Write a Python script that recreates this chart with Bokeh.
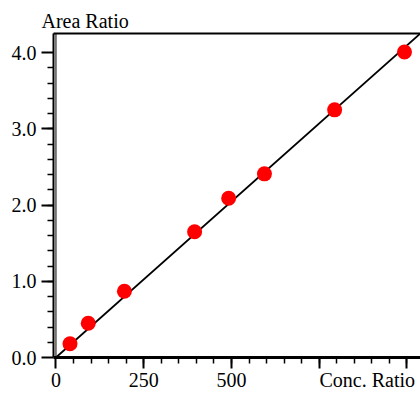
import numpy as np
from bokeh.plotting import figure
from bokeh.models import (Range1d, LinearAxis, FixedTicker, Span, Title,
                          PrintfTickFormatter)
from bokeh.embed import file_html
from bokeh.resources import INLINE

# ---- data ----
conc_ratio = [40, 92, 195, 395, 492, 594, 794, 993]
area_ratio = [0.18, 0.45, 0.87, 1.65, 2.09, 2.41, 3.25, 4.01]
x_major_ticks = [0, 250, 500, 750, 1000]
x_labelled_ticks = [0, 250, 500]
y_major_ticks = [0, 1, 2, 3, 4]
x_title = "Conc. Ratio"
y_title = "Area Ratio"

FONT = "Liberation Serif"
X_TITLE_POS = 887          # where the x title is centred (axis units)

x0, x1 = -7, 1038.6
y0, y1 = 0, 4.252

p = figure(width=420, height=393, output_backend="svg", toolbar_location=None,
           x_range=Range1d(x0, x1), y_range=Range1d(y0, y1),
           min_border_left=53, min_border_right=0, min_border_top=33,
           min_border_bottom=36, background_fill_color="white",
           border_fill_color="white")
p.outline_line_color = None
p.grid.visible = False

p.title = Title(text=y_title, align="left", offset=-12, standoff=4,
                text_font=FONT, text_font_size="20px", text_font_style="normal",
                text_color="black")

# x axis: line and ticks only
xa = p.xaxis[0]
xa.ticker = FixedTicker(ticks=x_major_ticks,
                        minor_ticks=list(np.arange(50, 1001, 50)))
xa.major_label_overrides = {t: "" for t in x_major_ticks}
xa.axis_line_width = 3
xa.major_tick_out = 11
xa.major_tick_in = 0
xa.minor_tick_out = 6
xa.minor_tick_in = 0
xa.major_tick_line_width = 2
xa.minor_tick_line_width = 1.5
xa.major_label_standoff = 0
xa.major_label_text_font_size = "0px"

# x axis labels row (tick labels + title on the same line)
xl = LinearAxis(ticker=FixedTicker(ticks=x_labelled_ticks + [X_TITLE_POS]),
                major_label_overrides={X_TITLE_POS: x_title},
                axis_line_color=None, major_tick_line_color=None,
                minor_tick_line_color=None, major_tick_out=0, minor_tick_out=0,
                major_tick_in=0, minor_tick_in=0, major_label_standoff=0,
                major_label_text_font=FONT, major_label_text_font_size="20px",
                major_label_text_color="black")
p.add_layout(xl, "below")

# y axis
ya = p.yaxis[0]
ya.ticker = FixedTicker(ticks=y_major_ticks,
                        minor_ticks=[round(v, 1) for v in np.arange(0.2, 4.0, 0.2)])
ya.formatter = PrintfTickFormatter(format="%.1f")
ya.axis_line_width = 2
ya.major_tick_out = 12
ya.major_tick_in = 0
ya.minor_tick_out = 6
ya.minor_tick_in = 0
ya.major_tick_line_width = 2
ya.minor_tick_line_width = 1.5
ya.major_label_text_font = FONT
ya.major_label_text_font_size = "20px"
ya.major_label_text_color = "black"
ya.major_label_standoff = 5

# top border as an axis without ticks
top = LinearAxis(ticker=FixedTicker(ticks=[]), axis_line_width=2,
                 major_tick_line_color=None, minor_tick_line_color=None,
                 major_label_text_font_size="0px")
p.add_layout(top, "above")

# inner line of the double left border
p.add_layout(Span(location=0, dimension="height", line_color="black", line_width=1))

# fit line through origin
cx = np.array(conc_ratio, dtype=float)
ay = np.array(area_ratio, dtype=float)
slope = float((cx * ay).sum() / (cx * cx).sum())
fx = [0, x1]
p.line(fx, [slope * v for v in fx], line_color="black", line_width=1.8)

p.scatter(conc_ratio, area_ratio, size=15, fill_color="#ff0000",
          line_color=None)

open("out.html", "w").write(file_html(p, INLINE))
